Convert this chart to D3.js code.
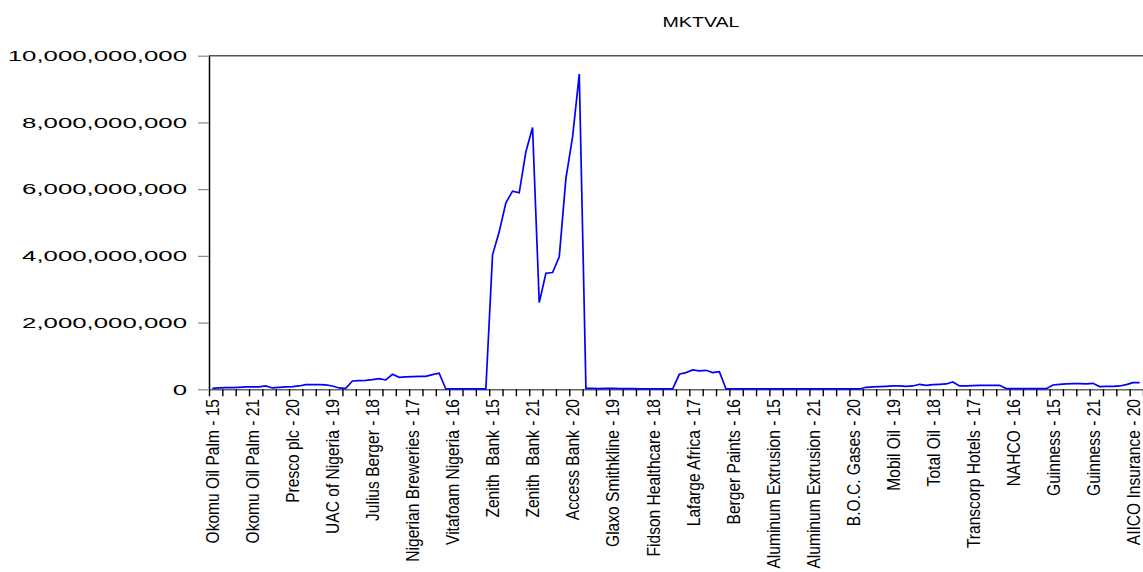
<!DOCTYPE html>
<html>
<head>
<meta charset="utf-8">
<script src="https://cdn.jsdelivr.net/npm/d3@7"></script>
<style>
  body { margin: 0; background: #fff; }
  svg { display: block; }
</style>
</head>
<body>
<svg id="chart" width="1143" height="572"></svg>
<script>
// panel: 20 companies x 7 years (2015-2021)
const companies = [
	'Okomu Oil Palm', 'Presco plc', 'UAC of Nigeria', 'Julius Berger', 'Nigerian Breweries',
	'Vitafoam Nigeria', 'Zenith  Bank', 'Access Bank', 'Glaxo Smithkline', 'Fidson Healthcare',
	'Lafarge Africa', 'Berger Paints', 'Aluminum Extrusion', 'B.O.C. Gases', 'Mobil Oil',
	'Total Oil', 'Transcorp Hotels', 'NAHCO', 'Guinness', 'AIICO Insurance',
];
const years = ['15', '16', '17', '18', '19', '20', '21'];

// MKTVAL, in billions, one row per company
const mktval = [
	0.03, 0.04, 0.05, 0.05, 0.06, 0.07, 0.07,
	0.07, 0.10, 0.04, 0.06, 0.07, 0.08, 0.10,
	0.14, 0.14, 0.14, 0.13, 0.10, 0.04, 0.03,
	0.25, 0.26, 0.27, 0.29, 0.32, 0.28, 0.45,
	0.36, 0.37, 0.38, 0.39, 0.39, 0.44, 0.48,
	0.01, 0.01, 0.01, 0.01, 0.01, 0.01, 0.01,
	4.03, 4.72, 5.59, 5.94, 5.89, 7.12, 7.85,
	2.60, 3.48, 3.50, 3.97, 6.32, 7.57, 9.45,
	0.03, 0.03, 0.02, 0.03, 0.03, 0.02, 0.02,
	0.02, 0.01, 0.01, 0.01, 0.01, 0.01, 0.01,
	0.45, 0.50, 0.58, 0.55, 0.57, 0.50, 0.53,
	0.01, 0.01, 0.01, 0.01, 0.01, 0.01, 0.01,
	0.01, 0.01, 0.01, 0.01, 0.01, 0.01, 0.01,
	0.01, 0.01, 0.01, 0.01, 0.01, 0.01, 0.01,
	0.06, 0.07, 0.08, 0.09, 0.10, 0.10, 0.09,
	0.10, 0.15, 0.12, 0.14, 0.15, 0.16, 0.22,
	0.10, 0.10, 0.11, 0.12, 0.12, 0.12, 0.12,
	0.02, 0.02, 0.02, 0.02, 0.02, 0.02, 0.02,
	0.13, 0.15, 0.16, 0.17, 0.17, 0.16, 0.18,
	0.08, 0.09, 0.09, 0.10, 0.14, 0.20, 0.20,
].map(v => v * 1e9);

const yTicks = [0, 2e9, 4e9, 6e9, 8e9, 10e9];
const labelEvery = 6;
const tickEvery = 2;

const categories = [];
companies.forEach(c => years.forEach(y => categories.push(c + ' - ' + y)));
const n = categories.length;

const svg = d3.select('#chart');
const plotLeft = 209, plotRight = 1143, plotTop = 55.7, plotBottom = 389.3;

const x = d3.scaleLinear().domain([-0.5, n - 0.5]).range([plotLeft, plotRight]);
const y = d3.scaleLinear().domain([0, 10e9]).range([plotBottom, plotTop]);

svg.append('rect').attr('width', 1143).attr('height', 572).attr('fill', '#fff');

// title
svg.append('text')
	.attr('transform', 'translate(701,27) scale(1.4,1)')
	.attr('text-anchor', 'middle')
	.attr('font-family', 'Liberation Sans, Arial, sans-serif')
	.attr('font-size', 14)
	.attr('fill', '#000')
	.text('MKTVAL');

// top frame
svg.append('line')
	.attr('x1', plotLeft).attr('x2', plotRight).attr('y1', plotTop).attr('y2', plotTop)
	.attr('stroke', '#555').attr('stroke-width', 1.5);

// x axis
const xAxis = svg.append('g')
	.attr('transform', `translate(0,${plotBottom})`)
	.call(d3.axisBottom(x)
		.tickValues(d3.range(-0.5, n, tickEvery))
		.tickSize(7)
		.tickSizeOuter(0)
		.tickFormat(''));
xAxis.select('.domain').attr('stroke', '#666').attr('stroke-width', 1.5);
xAxis.selectAll('.tick line').attr('stroke', '#000').attr('stroke-width', 1.4);

// category labels: condensed Liberation Sans, rotated
svg.append('g').selectAll('text')
	.data(categories.map((c, i) => ({ c, i })).filter(d => d.i % labelEvery === 0))
	.join('text')
	.attr('transform', d => `translate(${x(d.i)},399) rotate(-90) scale(0.82,1)`)
	.attr('dy', '0.36em')
	.attr('text-anchor', 'end')
	.attr('font-family', 'Liberation Sans, Arial, sans-serif')
	.attr('font-size', 19)
	.style('white-space', 'pre')
	.attr('fill', '#000')
	.text(d => d.c);

// y axis
const yAxis = svg.append('g')
	.attr('transform', `translate(${plotLeft},0)`)
	.call(d3.axisLeft(y)
		.tickValues(yTicks)
		.tickSize(11)
		.tickSizeOuter(0)
		.tickFormat(d3.format(',')));
yAxis.select('.domain').attr('stroke', '#000').attr('stroke-width', 1.5);
yAxis.selectAll('.tick line').attr('stroke', '#888').attr('stroke-width', 1.2);
yAxis.selectAll('.tick text')
	.attr('x', 0)
	.attr('transform', 'translate(-22,0) scale(1.72,1)')
	.attr('font-family', 'Liberation Sans, Arial, sans-serif')
	.attr('font-size', 15)
	.attr('fill', '#000');

// series
const line = d3.line().x((d, i) => x(i)).y(d => y(d));
svg.append('path')
	.datum(mktval)
	.attr('d', line)
	.attr('fill', 'none')
	.attr('stroke', '#0000ff')
	.attr('stroke-width', 1.7)
	.attr('stroke-linejoin', 'miter');
</script>
</body>
</html>
